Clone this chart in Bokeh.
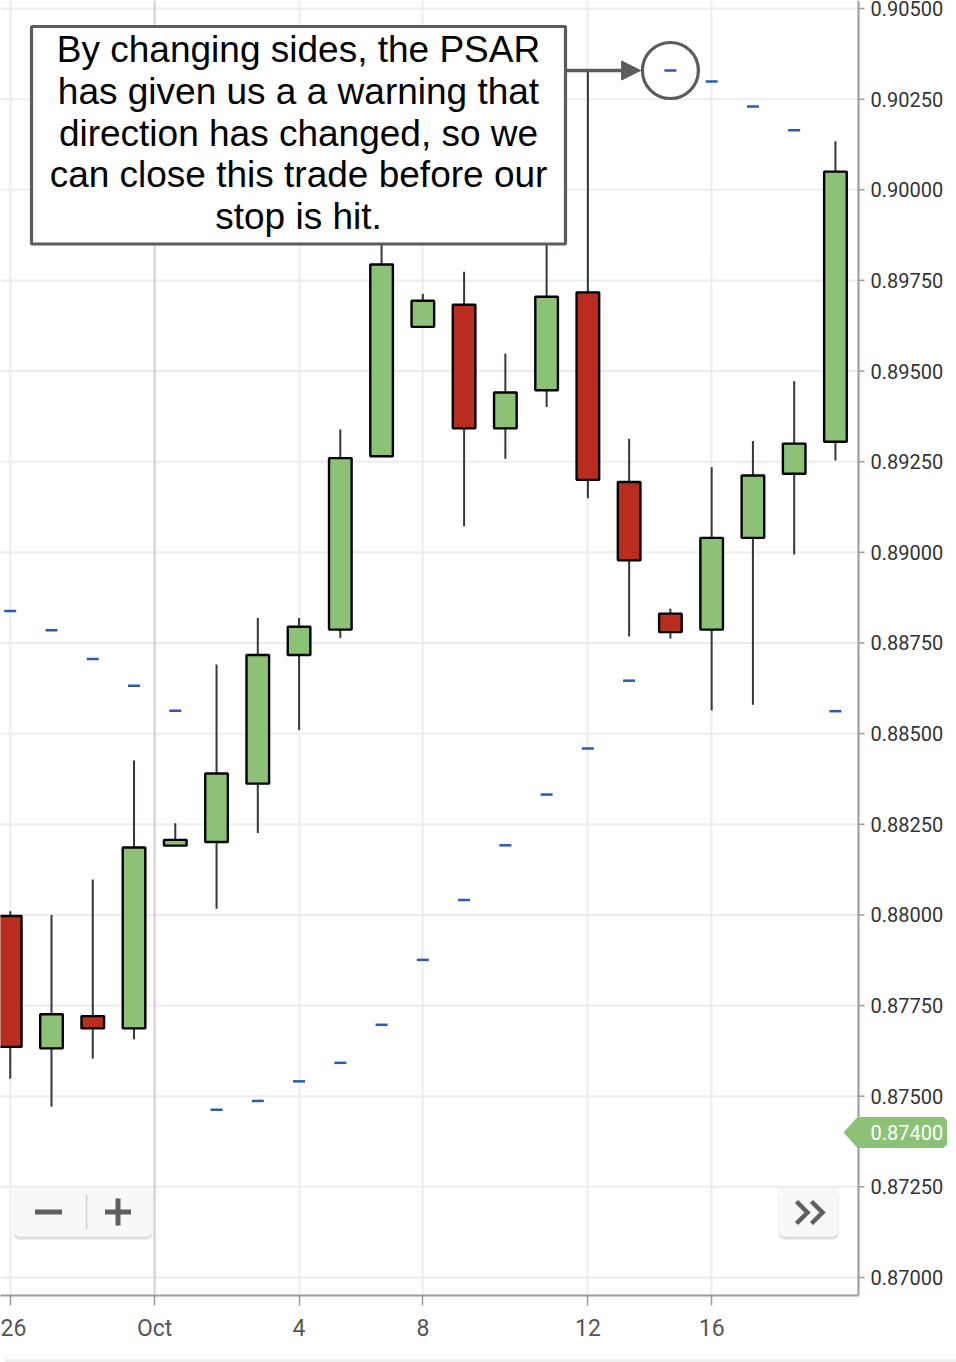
from bokeh.plotting import figure
from bokeh.layouts import column
from bokeh.models import (Range1d, FixedTicker, Span, BoxAnnotation, Label, Arrow, NormalHead,
                          PolyAnnotation, ColumnDataSource, Div)
from bokeh.core.properties import value
from bokeh.embed import file_html
from bokeh.resources import INLINE

# ---------------- data ----------------
dates = ["Sep 26", "Sep 27", "Sep 28", "Sep 29", "Oct 1", "Oct 2", "Oct 3", "Oct 4",
         "Oct 5", "Oct 6", "Oct 8", "Oct 9", "Oct 10", "Oct 11", "Oct 12", "Oct 13",
         "Oct 15", "Oct 16", "Oct 17", "Oct 18", "Oct 19"]
open_ = [0.87997, 0.87632, 0.87721, 0.87687, 0.88191, 0.88201, 0.88362, 0.88717,
         0.88787, 0.89265, 0.89622, 0.89683, 0.89342, 0.89447, 0.89717, 0.89194,
         0.88831, 0.88787, 0.89040, 0.89217, 0.89305]
high = [0.88010, 0.88000, 0.88098, 0.88426, 0.88253, 0.88691, 0.88819, 0.88819,
        0.89339, 0.89900, 0.89713, 0.89774, 0.89548, 0.89900, 0.90329, 0.89313,
        0.88845, 0.89235, 0.89307, 0.89472, 0.90134]
low = [0.87548, 0.87471, 0.87603, 0.87657, 0.88191, 0.88017, 0.88226, 0.88510,
       0.88764, 0.89265, 0.89622, 0.89072, 0.89258, 0.89401, 0.89149, 0.88768,
       0.88762, 0.88564, 0.88580, 0.88994, 0.89253]
close = [0.87636, 0.87726, 0.87687, 0.88186, 0.88207, 0.88390, 0.88717, 0.88795,
         0.89260, 0.89794, 0.89694, 0.89342, 0.89441, 0.89705, 0.89200, 0.88978,
         0.88780, 0.89040, 0.89212, 0.89300, 0.90050]
psar = [0.88838, 0.88785, 0.88706, 0.88632, 0.88563, 0.87463, 0.87487, 0.87541,
        0.87592, 0.87697, 0.87876, 0.88041, 0.88192, 0.88332, 0.88459, 0.88646,
        0.90329, 0.90299, 0.90230, 0.90164, 0.88562]
x_tick_pos = [0, 3.5, 7, 10, 14, 17]
x_tick_labels = ["26", "Oct", "4", "8", "12", "16"]
month_boundary = 3.5
y_ticks = [0.87000, 0.87250, 0.87500, 0.87750, 0.88000, 0.88250, 0.88500,
           0.88750, 0.89000, 0.89250, 0.89500, 0.89750, 0.90000, 0.90250, 0.90500]
y_tick_labels = ["0.87000", "0.87250", "0.87500", "0.87750", "0.88000", "0.88250",
                 "0.88500", "0.88750", "0.89000", "0.89250", "0.89500", "0.89750",
                 "0.90000", "0.90250", "0.90500"]
last_price = 0.87400
note_lines = ["By changing sides, the PSAR",
              "has given us a a warning that",
              "direction has changed, so we",
              "can close this trade before our",
              "stop is hit."]

# ---------------- layout helpers (page pixels -> data, decorations only) ----------------
X0, DX = 9.74, 41.26          # page x of first candle, px per candle
Y_TOP, PPU = 0.905, 36257.0   # value at page y = 8, px per price unit
def X(px):
    return (px - X0) / DX
def Y(py):
    return Y_TOP - (py - 8) / PPU

AXIS_X = X(858)               # price axis position (right edge of the plotting area)
GREEN = "#8cc276"
RED = "#b82d1e"
GREY = "#5c5c5c"
BLUE = "#2a5caa"
AXIS_COL = "#9a9a9a"
GRID_COL = "#ececec"

idx = list(range(len(dates)))
src = ColumnDataSource(dict(
    x=idx, o=open_, h=high, l=low, c=close,
    mid=[(o + c) / 2 for o, c in zip(open_, close)],
    hgt=[abs(c - o) for o, c in zip(open_, close)],
    color=[GREEN if c >= o else RED for o, c in zip(open_, close)],
))

p = figure(width=956, height=1354, output_backend="svg", toolbar_location=None,
           x_range=Range1d(X(0), X(956)),
           y_range=Range1d(Y(1295), Y(0)),
           y_axis_location=None,
           min_border_left=0, min_border_top=0, min_border_right=0, min_border_bottom=59,
           background_fill_color="white", border_fill_color="white")
p.outline_line_color = None

# time axis (bottom)
xa = p.xaxis[0]
xa.ticker = FixedTicker(ticks=x_tick_pos)
xa.major_label_overrides = {k: v for k, v in zip(x_tick_pos, x_tick_labels)}
xa.bounds = (X(0), AXIS_X)
xa.axis_line_color = AXIS_COL
xa.axis_line_width = 2
xa.major_tick_line_color = AXIS_COL
xa.major_tick_line_width = 1.5
xa.major_tick_in = 0
xa.major_tick_out = 10
xa.minor_tick_line_color = None
xa.major_label_standoff = 9
xa.major_label_text_font = "Roboto"
xa.major_label_text_font_size = "23px"
xa.major_label_text_color = "#555555"

for g in p.xgrid:
    g.grid_line_color = GRID_COL
    g.grid_line_width = 2
for g in p.ygrid:
    g.visible = False
p.add_layout(Span(location=month_boundary, dimension="height", line_color="#d2d2d2",
                  line_width=2, level="underlay"))

# price axis drawn on the right edge of the plotting area
p.segment(x0=[X(0)] * len(y_ticks), x1=[AXIS_X] * len(y_ticks), y0=y_ticks, y1=y_ticks,
          line_color=GRID_COL, line_width=2, level="underlay")
p.segment(x0=[AXIS_X] * len(y_ticks), x1=[X(864)] * len(y_ticks), y0=y_ticks, y1=y_ticks,
          line_color=AXIS_COL, line_width=1.5)
p.text(x=[X(870)] * len(y_ticks), y=y_ticks, text=y_tick_labels,
       text_font=value("Roboto"), text_font_size="20px", text_color="#333333",
       text_align="left", text_baseline="middle")

# candles
p.segment(x0="x", y0="h", x1="x", y1="l", line_color="#2f3a3a", line_width=2, source=src)
p.rect(x="x", y="mid", width=22.6, width_units="screen", height="hgt",
       fill_color="color", line_color="black", line_width=2.4, source=src)

# PSAR
p.scatter(x=idx, y=psar, marker="dash", size=12, line_color=BLUE, line_width=2.5)

# flip point (PSAR moves from below to above price)
flip = next(i for i in range(1, len(idx))
            if psar[i] > close[i] and psar[i - 1] < close[i - 1])
p.scatter(x=[idx[flip]], y=[psar[flip]], marker="circle", size=56, fill_alpha=0,
          line_color=GREY, line_width=3.2)

# axis line (after the plot marks)
p.add_layout(Span(location=AXIS_X, dimension="height", line_color=AXIS_COL, line_width=2))

# annotation box
box_left, box_right, box_top, box_bottom = X(31), X(565), Y(26), Y(243.5)
p.add_layout(BoxAnnotation(left=box_left, right=box_right, top=box_top, bottom=box_bottom,
                           fill_color="white", fill_alpha=1.0, line_color=GREY,
                           line_width=3.2, line_alpha=1.0))
for k, line in enumerate(note_lines):
    p.add_layout(Label(x=(box_left + box_right) / 2, y=Y(49.0 + 41.8 * k), text=line,
                       text_align="center", text_baseline="alphabetic",
                       text_font="Liberation Sans", text_font_size="37px",
                       text_color="black"))
p.add_layout(Arrow(x_start=box_right, y_start=psar[flip],
                   x_end=idx[flip] - 29.8 / DX, y_end=psar[flip],
                   line_color=GREY, line_width=3.5,
                   end=NormalHead(size=19, fill_color=GREY, line_color=GREY, line_width=1)))

# chart UI chrome: zoom buttons and scroll button
for l, r in ((13, 152), (778, 838)):
    p.add_layout(BoxAnnotation(left=X(l), right=X(r), top=Y(1190), bottom=Y(1239),
                               fill_color="#dcdcdc", fill_alpha=0.9, line_color=None,
                               border_radius=6))
    p.add_layout(BoxAnnotation(left=X(l), right=X(r), top=Y(1187), bottom=Y(1236),
                               fill_color="#f8f8f8", fill_alpha=1.0, line_color="#ececec",
                               line_width=1, border_radius=6))
p.rect(x=[X(48), X(117.5), X(117.5), X(86)], y=[Y(1211.5)] * 4,
       width=[27, 26, 5, 1.5], height=[5, 5, 27, 34],
       width_units="screen", height_units="screen",
       fill_color=["#5f5f5f", "#5f5f5f", "#5f5f5f", "#cfcfcf"], line_color=None,
       level="overlay")
p.multi_line(xs=[[X(796), X(807), X(796)], [X(811), X(822), X(811)]],
             ys=[[Y(1201), Y(1212), Y(1223)], [Y(1201), Y(1212), Y(1223)]],
             line_color="#5f5f5f", line_width=4.5, line_join="miter", level="overlay")

# current price tag on the price axis
tag_h = 15.5 / PPU
r_px = 3.5 / PPU
p.add_layout(PolyAnnotation(
    xs=[X(843), AXIS_X - 1 / DX, X(943), X(946.5), X(946.5), X(943), AXIS_X - 1 / DX],
    ys=[last_price, last_price + tag_h, last_price + tag_h, last_price + tag_h - r_px,
        last_price - tag_h + r_px, last_price - tag_h, last_price - tag_h],
    fill_color=GREEN, fill_alpha=1.0, line_color=None))
p.add_layout(Label(x=X(870), y=last_price, text=f"{last_price:.5f}", text_align="left",
                   text_baseline="middle", text_font="Roboto", text_font_size="20px",
                   text_color="white"))

band = Div(width=956, height=7, styles={"background-color": "#efefef"})
layout = column(p, band, spacing=0)

open("out.html", "w").write(file_html(layout, INLINE))
